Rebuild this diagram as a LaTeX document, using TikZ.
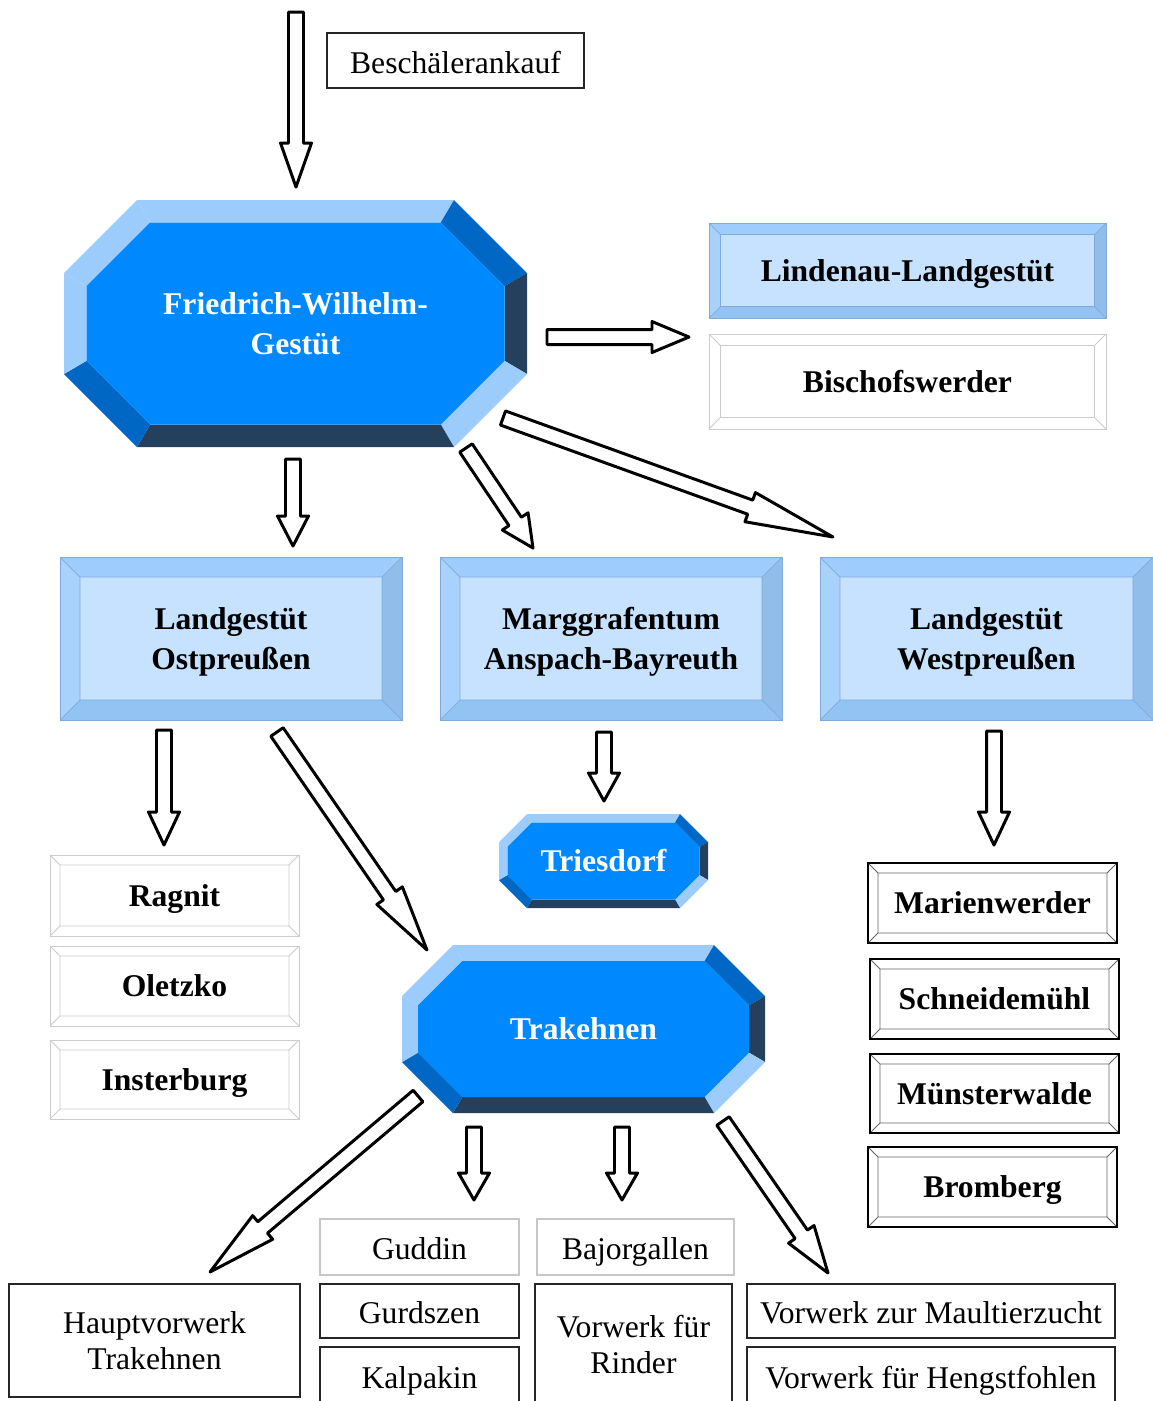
\documentclass[tikz,border=0pt]{standalone}
\usepackage{fontspec}
\setmainfont{Liberation Serif}
\usepackage{xcolor}
\usetikzlibrary{calc}
\definecolor{octFace}{HTML}{0088FF}
\definecolor{octLight}{HTML}{9CCCFC}
\definecolor{octMid}{HTML}{0068C4}
\definecolor{octDark}{HTML}{25405C}
\definecolor{boxFace}{HTML}{C6E2FF}
\definecolor{boxTop}{HTML}{9ECDFD}
\definecolor{boxLeft}{HTML}{A8D2FC}
\definecolor{boxRight}{HTML}{90BDEA}
\definecolor{boxBottom}{HTML}{93C3F2}
\definecolor{boxEdge}{HTML}{80AADA}
\def\px{0.02cm}
\def\shaftW{0.15cm}
\def\headW{0.31cm}
\newcommand{\blockarrow}[3]{%
% #1 = tail, #2 = tip, #3 = head length in px
\pgfmathsetlengthmacro{\headL}{#3*\px}
\coordinate (hb) at ($(#2)!\headL!(#1)$);
\draw[hollow]
($(#1)!\shaftW!90:(#2)$) -- ($(hb)!\shaftW!90:(#2)$) -- ($(hb)!\headW!90:(#2)$)
-- (#2) -- ($(hb)!\headW!-90:(#2)$) -- ($(hb)!\shaftW!-90:(#2)$)
-- ($(#1)!\shaftW!-90:(#2)$) -- cycle;
}
\newcommand{\octbox}[8]{%
% #1 = name, #2,#3 = centre, #4,#5 = half sizes, #6 = corner cut, #7 = bevel
\begin{scope}[shift={(#2,#3)}]
\pgfmathsetmacro{\oW}{#4}\pgfmathsetmacro{\oH}{#5}\pgfmathsetmacro{\oC}{#6}
\pgfmathsetmacro{\iW}{#4-#7}\pgfmathsetmacro{\iH}{#5-#7}\pgfmathsetmacro{\iC}{#6-0.414*#7}
\coordinate (o1) at (-\oW+\oC,-\oH); \coordinate (o2) at (\oW-\oC,-\oH);
\coordinate (o3) at (\oW,-\oH+\oC);  \coordinate (o4) at (\oW,\oH-\oC);
\coordinate (o5) at (\oW-\oC,\oH);   \coordinate (o6) at (-\oW+\oC,\oH);
\coordinate (o7) at (-\oW,\oH-\oC);  \coordinate (o8) at (-\oW,-\oH+\oC);
\coordinate (i1) at (-\iW+\iC,-\iH); \coordinate (i2) at (\iW-\iC,-\iH);
\coordinate (i3) at (\iW,-\iH+\iC);  \coordinate (i4) at (\iW,\iH-\iC);
\coordinate (i5) at (\iW-\iC,\iH);   \coordinate (i6) at (-\iW+\iC,\iH);
\coordinate (i7) at (-\iW,\iH-\iC);  \coordinate (i8) at (-\iW,-\iH+\iC);
\fill[octLight] (o1) -- (o2) -- (i2) -- (i1) -- cycle;
\fill[octMid]   (o2) -- (o3) -- (i3) -- (i2) -- cycle;
\fill[octDark]  (o3) -- (o4) -- (i4) -- (i3) -- cycle;
\fill[octLight] (o4) -- (o5) -- (i5) -- (i4) -- cycle;
\fill[octDark]  (o5) -- (o6) -- (i6) -- (i5) -- cycle;
\fill[octMid]   (o6) -- (o7) -- (i7) -- (i6) -- cycle;
\fill[octLight] (o7) -- (o8) -- (i8) -- (i7) -- cycle;
\fill[octLight] (o8) -- (o1) -- (i1) -- (i8) -- cycle;
\fill[octFace] (i1) -- (i2) -- (i3) -- (i4) -- (i5) -- (i6) -- (i7) -- (i8) -- cycle;
\node[octlabel] (#1) at (0,0) {#8};
\end{scope}
}
\newcommand{\bevbox}[8]{%
% #1 = name, #2 = kind, #3,#4 = top left, #5,#6 = bottom right, #7 = bevel
\fill[#2 top] (#3,#4) -- (#5,#4) -- (#5-#7,#4+#7) -- (#3+#7,#4+#7) -- cycle;
\fill[#2 right] (#5,#4) -- (#5,#6) -- (#5-#7,#6-#7) -- (#5-#7,#4+#7) -- cycle;
\fill[#2 bottom] (#5,#6) -- (#3,#6) -- (#3+#7,#6-#7) -- (#5-#7,#6-#7) -- cycle;
\fill[#2 left] (#3,#6) -- (#3,#4) -- (#3+#7,#4+#7) -- (#3+#7,#6-#7) -- cycle;
\fill[#2 face] (#3+#7,#4+#7) rectangle (#5-#7,#6-#7);
\draw[#2 edge] (#3+#7,#4+#7) rectangle (#5-#7,#6-#7)
  (#3,#4) -- (#3+#7,#4+#7) (#5,#4) -- (#5-#7,#4+#7)
  (#5,#6) -- (#5-#7,#6-#7) (#3,#6) -- (#3+#7,#6-#7);
\draw[#2 rim] (#3,#4) rectangle (#5,#6);
\node[boxlabel, #2 label] (#1) at ({(#3+#5)/2},{(#4+#6)/2}) {#8};
}

\begin{document}
\begin{tikzpicture}[
    x=0.02cm, y=-0.02cm,
    hollow/.style={draw=black, fill=white, line width=1.7pt, line join=round},
    octlabel/.style={text=white, font=\bfseries\fontsize{18}{22.5}\selectfont, align=center},
    boxlabel/.style={font=\bfseries\fontsize{18}{22.5}\selectfont, align=center},
    plainbox/.style={draw=black!85, line width=0.6pt, font=\fontsize{18}{20.5}\selectfont, align=center},
    onebox/.style={plainbox, text height=14.3pt, text depth=0pt},
    thinbox/.style={onebox, draw=black!22},
    sky top/.style={fill=boxTop}, sky right/.style={fill=boxRight},
    sky bottom/.style={fill=boxBottom}, sky left/.style={fill=boxLeft},
    sky face/.style={fill=boxFace},
    sky edge/.style={draw=boxEdge, line width=0.4pt},
    sky rim/.style={draw=boxEdge, line width=0.4pt},
    sky label/.style={yshift=-2pt},
    pale top/.style={fill=white}, pale right/.style={fill=white},
    pale bottom/.style={fill=white}, pale left/.style={fill=white},
    pale face/.style={fill=white},
    pale edge/.style={draw=black!20, line width=0.5pt},
    pale rim/.style={draw=black!20, line width=0.5pt},
    pale label/.style={text height=12.5pt, text depth=0pt},
    framed top/.style={fill=white}, framed right/.style={fill=white},
    framed bottom/.style={fill=white}, framed left/.style={fill=white},
    framed face/.style={fill=white},
    framed edge/.style={draw=black!60, line width=0.5pt},
    framed rim/.style={draw=black, line width=1.1pt},
    framed label/.style={text height=12.5pt, text depth=0pt}
]
\useasboundingbox (0,0) rectangle (1153,1401);
\clip (0,0) rectangle (1153,1401);

% top level
\node[onebox, minimum width=257*\px, minimum height=55*\px] (ankauf) at (455.5,60.5) {Beschälerankauf};
\octbox{fw}{295.5}{323.5}{231.5}{123.5}{73}{22.5}{Friedrich-Wilhelm-\\Gestüt}
\bevbox{lindenau}{sky}{709}{223}{1106}{318}{11.5}{Lindenau-Landgestüt}
\bevbox{bischofswerder}{pale}{709}{334}{1106}{429}{11.5}{Bischofswerder}

% second level
\bevbox{ostpr}{sky}{60}{557}{402}{720}{20}{Landgestüt\\Ostpreußen}
\bevbox{anspach}{sky}{440}{557}{782}{720}{20}{Marggrafentum\\Anspach-Bayreuth}
\bevbox{westpr}{sky}{820}{557}{1153}{720}{20}{Landgestüt\\Westpreußen}

% third level
\bevbox{ragnit}{pale}{50}{855}{299}{936}{10}{Ragnit}
\bevbox{oletzko}{pale}{50}{946}{299}{1026}{10}{Oletzko}
\bevbox{insterburg}{pale}{50}{1040}{299}{1119}{10}{Insterburg}
\octbox{triesdorf}{603.5}{861}{104.5}{47}{28}{8.5}{Triesdorf}
\octbox{trakehnen}{583.5}{1029}{181.5}{84}{51}{16}{Trakehnen}
\bevbox{marienwerder}{framed}{868}{863}{1117}{943}{10}{Marienwerder}
\bevbox{schneidemuehl}{framed}{870}{959}{1119}{1039}{10}{Schneidemühl}
\bevbox{muensterwalde}{framed}{870}{1054}{1119}{1133}{10}{Münsterwalde}
\bevbox{bromberg}{framed}{868}{1147}{1117}{1227}{10}{Bromberg}

% Vorwerke
\node[thinbox, minimum width=199*\px, minimum height=56*\px] (guddin) at (419.5,1247) {Guddin};
\node[thinbox, minimum width=197*\px, minimum height=56*\px] (bajorgallen) at (635.5,1247) {Bajorgallen};
\node[plainbox, minimum width=291*\px, minimum height=113*\px] (haupt) at (154.5,1340.5) {Hauptvorwerk\\Trakehnen};
\node[onebox, minimum width=199*\px, minimum height=54*\px] (gurdszen) at (419.5,1311) {Gurdszen};
\node[onebox, minimum width=199*\px, minimum height=58*\px] (kalpakin) at (419.5,1376) {Kalpakin};
\node[plainbox, minimum width=197*\px, minimum height=121*\px] (rinder) at (633.5,1344.5) {Vorwerk für\\Rinder};
\node[onebox, minimum width=368*\px, minimum height=54*\px] (maultier) at (931,1311) {Vorwerk zur Maultierzucht};
\node[onebox, minimum width=368*\px, minimum height=58*\px] (hengst) at (931,1376) {Vorwerk für Hengstfohlen};

% arrow ends
\coordinate (buy-t) at (296,12);    \coordinate (buy-h) at (296,187);
\coordinate (lin-t) at (547,337);   \coordinate (lin-h) at (689,337);
\coordinate (ost-t) at (293,459);   \coordinate (ost-h) at (293,546);
\coordinate (ans-t) at (466,448);   \coordinate (ans-h) at (533,548);
\coordinate (west-t) at (503,418);  \coordinate (west-h) at (833,537);
\coordinate (rag-t) at (164,730);   \coordinate (rag-h) at (164,845);
\coordinate (trk-t) at (277,732);   \coordinate (trk-h) at (427,950);
\coordinate (tri-t) at (604,732);   \coordinate (tri-h) at (604,801);
\coordinate (mar-t) at (994,731);   \coordinate (mar-h) at (994,845);
\coordinate (hpt-t) at (418,1096);  \coordinate (hpt-h) at (210,1272);
\coordinate (gud-t) at (474,1127);  \coordinate (gud-h) at (474,1200);
\coordinate (baj-t) at (622,1127);  \coordinate (baj-h) at (622,1200);
\coordinate (mlt-t) at (723,1121);  \coordinate (mlt-h) at (828,1273);

\blockarrow{buy-t}{buy-h}{44}
\blockarrow{lin-t}{lin-h}{37}
\blockarrow{ost-t}{ost-h}{30}
\blockarrow{ans-t}{ans-h}{32}
\blockarrow{west-t}{west-h}{88}
\blockarrow{rag-t}{rag-h}{33}
\blockarrow{trk-t}{trk-h}{66}
\blockarrow{tri-t}{tri-h}{28}
\blockarrow{mar-t}{mar-h}{33}
\blockarrow{hpt-t}{hpt-h}{69}
\blockarrow{gud-t}{gud-h}{27}
\blockarrow{baj-t}{baj-h}{27}
\blockarrow{mlt-t}{mlt-h}{47}
\end{tikzpicture}
\end{document}
